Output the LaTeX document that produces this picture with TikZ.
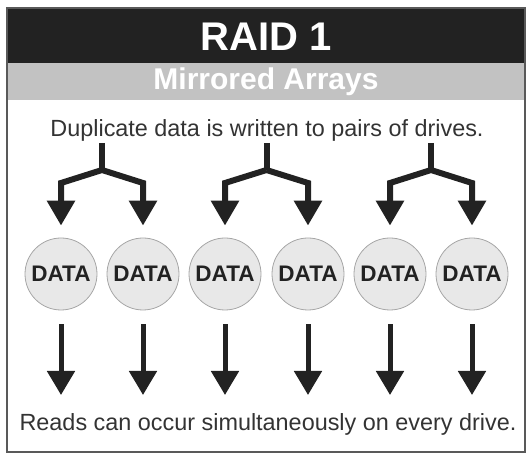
\documentclass[tikz,border=0pt]{standalone}
\usepackage{fontspec}
\setmainfont{Liberation Sans}
\usetikzlibrary{arrows.meta,calc}

\definecolor{barblack}{HTML}{222222}
\definecolor{bargrey}{HTML}{C2C2C2}
\definecolor{diskfill}{HTML}{E8E8E8}
\definecolor{inkgrey}{HTML}{333333}

\tikzset{
	disk/.style={circle, draw=gray!70, line width=0.8pt, fill=diskfill, minimum size=72pt, inner sep=0pt, font=\bfseries\fontsize{22.5}{22.5}\selectfont, text=barblack},
	fork/.style={draw=barblack, line width=6pt, line join=miter},
	writearrow/.style={fork, -{Triangle[length=25pt,width=27pt]}, shorten >=12pt},
	readarrow/.style={draw=barblack, line width=5pt, -{Triangle[length=24pt,width=27pt]}, shorten <=14pt},
	caption/.style={font=\fontsize{23.4}{23.4}\selectfont, text=inkgrey, inner sep=0pt}
}

\begin{document}
\begin{tikzpicture}[x=1pt, y=-1pt]
	\useasboundingbox (0,0) rectangle (531,454);

	\fill[barblack] (7,8) rectangle (525,63);
	\fill[bargrey] (7,63) rectangle (525,100);
	\draw[gray!70!black, line width=2pt] (7,8) rectangle (525,452);

	\node[font=\bfseries\fontsize{40}{40}\selectfont, text=white] (title) at (266,37) {RAID 1};
	\node[font=\bfseries\fontsize{30}{30}\selectfont, text=white] (subtitle) at (266,82) {Mirrored Arrays};
	\node[caption] (dup) at (267,130) {Duplicate data is written to pairs of drives.};

	\foreach \i/\x in {1/61,2/143,3/225,4/308,5/390,6/472}
		\node[disk] (d\i) at (\x,274) {DATA};

	\node[caption] (reads) at (268,424) {Reads can occur simultaneously on every drive.};

	\coordinate (stemtop) at (0,143);
	\coordinate (joint) at (0,170);
	\coordinate (bend) at (0,183);
	\coordinate (tipline) at (0,395);

	\foreach \j/\a/\b in {1/1/2,2/3/4,3/5/6} {
		\path ($(d\a)!.5!(d\b)$) coordinate (m\j);
		\coordinate (j\j) at (m\j |- joint);
		\draw[fork] (j\j |- stemtop) -- (j\j);
		\draw[writearrow] (j\j) -- (d\a |- bend) -- (d\a.north);
		\draw[writearrow] (j\j) -- (d\b |- bend) -- (d\b.north);
	}

	\foreach \i in {1,...,6}
		\draw[readarrow] (d\i.south) -- (d\i.south |- tipline);
\end{tikzpicture}
\end{document}
